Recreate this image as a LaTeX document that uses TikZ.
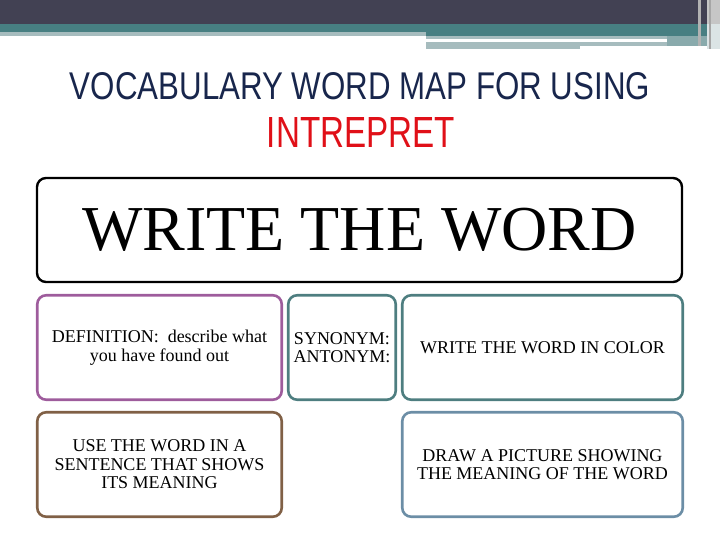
\documentclass[tikz,border=0pt]{standalone}
\usepackage{fontspec}
\setmainfont{Liberation Serif}
\setsansfont{Liberation Sans}
\usepackage{graphicx}

\definecolor{bannerdark}{RGB}{66,65,83}
\definecolor{bannerteal}{RGB}{71,127,130}
\definecolor{bannerlight}{RGB}{166,188,190}
\definecolor{titleblue}{RGB}{24,38,76}
\definecolor{titlered}{RGB}{224,16,24}
\definecolor{defpurple}{RGB}{158,92,156}
\definecolor{synteal}{RGB}{78,126,128}
\definecolor{sentbrown}{RGB}{128,96,70}
\definecolor{drawblue}{RGB}{108,142,166}

\tikzset{
	mapbox/.style={draw, line width=2.6pt, rounded corners=9pt, align=center, inner sep=0pt,
		font=\fontsize{18}{18.5}\selectfont},
	wordbox/.style={draw, line width=2.4pt, rounded corners=9pt, inner sep=0pt,
		minimum width=645, minimum height=104, font=\fontsize{64}{66}\selectfont}
}

\begin{document}
\begin{tikzpicture}[x=1pt,y=-1pt]
	\useasboundingbox (0,0) rectangle (720,540);
	
	% draw banner
	\fill[bannerdark] (0,0) rectangle (720,24);
	\fill[bannerteal] (0,24) rectangle (707,32);
	\fill[bannerlight] (0,32) rectangle (426,36);
	\fill[bannerteal] (426,32) rectangle (707,36);
	\fill[bannerlight] (426,36) rectangle (667,39);
	\fill[bannerlight] (426,42) rectangle (580,49);
	\fill[bannerlight] (580,42) rectangle (667,46);
	\fill[bannerlight!70!bannerteal] (667,36) rectangle (707,46);
	\fill[gray!45] (707,0) rectangle (720,24);
	\fill[bannerlight!40!white] (707,24) rectangle (720,49);
	\fill[gray!60] (698,0) rectangle (701,46);
	\fill[gray!70] (709,0) rectangle (711,49);
	
	% draw title
	\node[text=titleblue] (title) at (360,86.5)
		{\resizebox{580pt}{27pt}{\sffamily VOCABULARY WORD MAP FOR USING}};
	\node[text=titlered] (word name) at (361,132)
		{\resizebox{188pt}{30pt}{\sffamily INTREPRET}};
	
	% draw boxes
	\node[wordbox] (word) at (359.5,230) {WRITE THE WORD};
	
	\node[mapbox, draw=defpurple, minimum width=244.5, minimum height=104.5] (definition) at (159.5,347.5)
		{DEFINITION:\ \ describe what\\you have found out};
	\node[mapbox, draw=synteal, minimum width=107.5, minimum height=104.5] (synonym) at (342,347.5)
		{SYNONYM:\\ANTONYM:};
	\node[mapbox, draw=synteal, minimum width=280.5, minimum height=104.5] (color) at (542.5,347.5)
		{WRITE THE WORD IN COLOR};
	
	\node[mapbox, draw=sentbrown, minimum width=244.5, minimum height=104.5] (sentence) at (159.5,464.5)
		{USE THE WORD IN A\\SENTENCE THAT SHOWS\\ITS MEANING};
	\node[mapbox, draw=drawblue, minimum width=280.5, minimum height=104.5] (picture) at (542.5,464.5)
		{DRAW A PICTURE SHOWING\\THE MEANING OF THE WORD};
	
\end{tikzpicture}
\end{document}
